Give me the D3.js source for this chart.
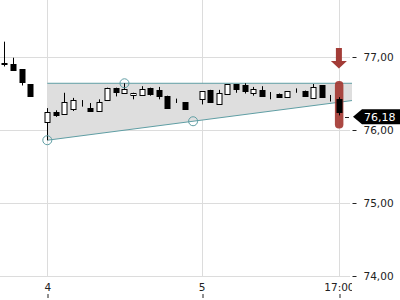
<!DOCTYPE html>
<html lang="en">
<head>
<meta charset="UTF-8">
<title>candles</title>
<script src="https://cdn.jsdelivr.net/npm/d3@7"></script>
<style>
  body { margin: 0; background: #fff; }
  text { font-family: "DejaVu Sans", sans-serif; }
</style>
</head>
<body>
<script>
// hourly candles, index 0 = five bars before day "4"
var opens  = [76.92, 76.90, 76.83, 76.63, 76.63, 76.11, 76.25, 76.22, 76.28, 76.37,
              76.30, 76.25, 76.41, 76.58, 76.51, 76.48, 76.48, 76.58, 76.55, 76.47,
              76.37, 76.38, 76.12, 76.42, 76.55, 76.36, 76.49, 76.63, 76.61, 76.51,
              76.55, 76.48, 76.50, 76.45, 76.54, 76.54, 76.44, 76.61, 76.48, 76.43];
var highs  = [77.21, 76.99, 76.83, 76.63, 76.63, 76.30, 76.27, 76.51, 76.44, 76.41,
              76.37, 76.42, 76.58, 76.58, 76.64, 76.51, 76.60, 76.58, 76.59, 76.47,
              76.43, 76.38, 76.12, 76.53, 76.55, 76.55, 76.63, 76.63, 76.64, 76.59,
              76.60, 76.52, 76.50, 76.53, 76.57, 76.54, 76.63, 76.61, 76.48, 76.45];
var lows   = [76.87, 76.82, 76.61, 76.47, 76.63, 75.86, 76.18, 76.22, 76.26, 76.32,
              76.26, 76.25, 76.41, 76.46, 76.51, 76.42, 76.48, 76.47, 76.42, 76.30,
              76.37, 76.29, 76.12, 76.35, 76.38, 76.36, 76.49, 76.51, 76.50, 76.47,
              76.47, 76.42, 76.46, 76.45, 76.51, 76.47, 76.44, 76.44, 76.39, 76.20];
var closes = [76.90, 76.82, 76.65, 76.47, 76.63, 76.25, 76.21, 76.38, 76.41, 76.37,
              76.26, 76.38, 76.58, 76.52, 76.56, 76.51, 76.56, 76.50, 76.47, 76.31,
              76.37, 76.29, 76.12, 76.53, 76.38, 76.51, 76.63, 76.56, 76.53, 76.56,
              76.47, 76.48, 76.46, 76.53, 76.54, 76.47, 76.59, 76.44, 76.48, 76.25];

var xTickIndex = [5, 23, 39];
var xTickLabels = ["4", "5", "17:00"];
var yTicks = [74, 75, 76, 77];

// triangle: resistance and support anchors (bar index, price)
var resistance = [{i: 5, p: 76.64}, {i: 14, p: 76.64}];
var support = [{i: 5, p: 75.86}, {i: 22, p: 76.12}];
var lastPrice = 76.18;
var highlightRange = [76.02, 76.67];

var width = 400, height = 300;
var plotRight = 352, plotBottom = 276;

var svg = d3.select('body').append('svg')
    .attr('width', width)
    .attr('height', height);

var x = d3.scaleLinear().domain([0, 39]).range([4.4, 338.9]);
var y = d3.scaleLinear().domain([74, 77]).range([276, 57]);
var endIndex = x.invert(plotRight);

var fmt = function (d) { return d3.format('.2f')(d).replace('.', ','); };

svg.append('clipPath').attr('id', 'plot')
    .append('rect').attr('x', 0).attr('y', 0).attr('width', plotRight).attr('height', plotBottom + 30);

// grid
svg.selectAll('.hgrid').data(yTicks).enter().append('line')
    .attr('x1', 0).attr('x2', plotRight - 2)
    .attr('y1', function (d) { return Math.round(y(d)) + 0.5; })
    .attr('y2', function (d) { return Math.round(y(d)) + 0.5; })
    .attr('stroke', '#dcdcdc');
svg.selectAll('.vgrid').data(xTickIndex).enter().append('line')
    .attr('x1', function (d) { return Math.round(x(d)) + 0.5; })
    .attr('x2', function (d) { return Math.round(x(d)) + 0.5; })
    .attr('y1', 0).attr('y2', plotBottom)
    .attr('stroke', '#dcdcdc');

var plot = svg.append('g').attr('clip-path', 'url(#plot)');

// shaded triangle
var supSlope = (support[1].p - support[0].p) / (support[1].i - support[0].i);
var supAt = function (i) { return support[0].p + supSlope * (i - support[0].i); };
var band = [
    [x(resistance[0].i), y(resistance[0].p)],
    [x(endIndex), y(resistance[0].p)],
    [x(endIndex), y(supAt(endIndex))],
    [x(support[0].i), y(support[0].p)]
];
plot.append('polygon')
    .attr('points', band.map(function (d) { return d.join(','); }).join(' '))
    .attr('fill', '#dedede');
plot.append('line')
    .attr('x1', x(resistance[0].i)).attr('x2', x(endIndex))
    .attr('y1', y(resistance[0].p)).attr('y2', y(resistance[0].p))
    .attr('stroke', '#5f9ea4').attr('stroke-width', 1);
plot.append('line')
    .attr('x1', x(support[0].i)).attr('x2', x(endIndex))
    .attr('y1', y(support[0].p)).attr('y2', y(supAt(endIndex)))
    .attr('stroke', '#5f9ea4').attr('stroke-width', 1);

// red highlight on the last bar
var last = opens.length - 1;
plot.append('rect')
    .attr('x', x(last) - 4).attr('width', 8.5)
    .attr('y', y(highlightRange[1])).attr('height', y(highlightRange[0]) - y(highlightRange[1]))
    .attr('rx', 4)
    .attr('fill', '#a2352f').attr('opacity', 0.9);

// candles
var idx = d3.range(opens.length);
var px = function (i) { return Math.round(x(i)) + 0.5; };
plot.selectAll('.wick').data(idx).enter().append('line')
    .attr('x1', px).attr('x2', px)
    .attr('y1', function (i) { return y(highs[i]); })
    .attr('y2', function (i) { return y(lows[i]); })
    .attr('stroke', '#000');
plot.selectAll('.body').data(idx).enter().append('rect')
    .attr('x', function (i) { return px(i) - 2.5; })
    .attr('width', 5)
    .attr('y', function (i) { return Math.round(y(Math.max(opens[i], closes[i]))) + 0.5; })
    .attr('height', function (i) { return Math.max(0, Math.round(Math.abs(y(opens[i]) - y(closes[i])))); })
    .attr('fill', function (i) { return closes[i] > opens[i] ? '#fff' : '#000'; })
    .attr('stroke', '#000');

// anchor circles
var anchors = [support[0], resistance[1], support[1]];
plot.selectAll('.anchor').data(anchors).enter().append('circle')
    .attr('cx', function (d) { return x(d.i); })
    .attr('cy', function (d) { return y(d.p); })
    .attr('r', 4.5)
    .attr('fill', 'none')
    .attr('stroke', '#5f9ea4');

// arrow above the last bar
var ax = x(last);
svg.append('path')
    .attr('d', 'M' + (ax - 3) + ',48 H' + (ax + 3) + ' V61 H' + (ax + 8) +
        ' L' + ax + ',68.5 L' + (ax - 8) + ',61 H' + (ax - 3) + ' Z')
    .attr('fill', '#a33c37');

// y axis
var yAxis = svg.append('g')
    .attr('transform', 'translate(352.5,0)')
    .call(d3.axisRight(y).tickValues(yTicks).tickSize(4).tickPadding(7).tickFormat(fmt));
yAxis.select('.domain').remove();
yAxis.selectAll('line').attr('stroke', '#222');
yAxis.selectAll('text').attr('font-size', '10.5px').attr('fill', '#222')
    .attr('font-family', 'DejaVu Sans');

// x axis (labels above small ticks), clipped at plot edge
var xAxis = svg.append('g')
    .attr('clip-path', 'url(#plot)')
    .append('g')
    .attr('transform', 'translate(0,298)')
    .call(d3.axisTop(x).tickValues(xTickIndex).tickSize(4).tickPadding(3)
        .tickFormat(function (d, i) { return xTickLabels[i]; }));
xAxis.select('.domain').remove();
xAxis.selectAll('line').attr('stroke', '#222')
    .attr('transform', function (d) { return 'translate(' + (Math.round(x(d)) + 0.5 - x(d)) + ',0)'; });
xAxis.selectAll('text').attr('font-size', '10.5px').attr('fill', '#222')
    .attr('font-family', 'DejaVu Sans');

// last price tag
var ly = y(lastPrice);
svg.append('line')
    .attr('x1', 345).attr('x2', 349)
    .attr('y1', Math.round(ly) + 0.5).attr('y2', Math.round(ly) + 0.5)
    .attr('stroke', '#222');
svg.append('polygon')
    .attr('points', [[353, ly], [362, ly - 7.5], [400, ly - 7.5], [400, ly + 7.5], [362, ly + 7.5]]
        .map(function (d) { return d.join(','); }).join(' '))
    .attr('fill', '#000');
svg.append('text')
    .attr('x', 364).attr('y', ly)
    .attr('dy', '0.36em')
    .attr('font-size', '11px')
    .attr('fill', '#fff')
    .text(fmt(lastPrice));
</script>
</body>
</html>
